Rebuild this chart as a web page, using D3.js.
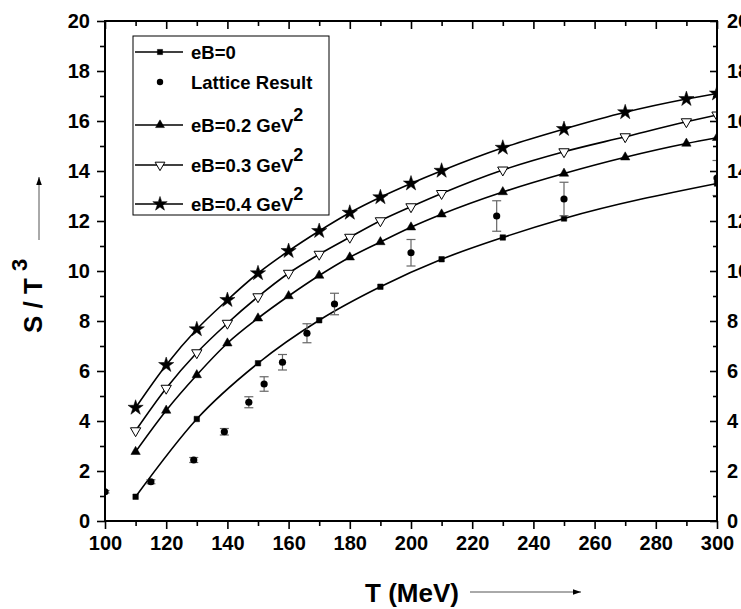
<!DOCTYPE html>
<html><head><meta charset="utf-8">
<script src="https://cdn.jsdelivr.net/npm/d3@7"></script>
<style>body{margin:0;background:#fff}svg{display:block}text{font-family:"Liberation Sans",Arial,sans-serif;font-weight:bold}</style>
</head><body><svg id="c" width="741" height="609"></svg>
<script>
// ---- data ----
const T_eB0 = [110,130,150,170,190,210,230,250,300];
const S_eB0 = [0.97,4.08,6.31,8.03,9.37,10.47,11.34,12.1,13.5];
const T_field = [110,120,130,140,150,160,170,180,190,200,210,230,250,270,290,300];
const S_eB02 = [2.77,4.42,5.84,7.11,8.11,9.0,9.82,10.55,11.16,11.75,12.27,13.16,13.9,14.55,15.1,15.33];
const S_eB03 = [3.61,5.31,6.73,7.91,8.97,9.91,10.67,11.35,12.01,12.57,13.1,14.04,14.77,15.37,15.97,16.24];
const S_eB04 = [4.53,6.24,7.67,8.84,9.91,10.8,11.6,12.33,12.95,13.5,14.01,14.93,15.68,16.35,16.88,17.1];
const T_lat = [100,115,129,139,147,152,158,166,175,200,228,250,300];
const S_lat = [1.17,1.57,2.44,3.57,4.75,5.48,6.35,7.51,8.68,10.73,12.2,12.88,13.72];
const E_lat = [0.05,0.08,0.1,0.13,0.22,0.29,0.31,0.38,0.43,0.53,0.61,0.67,0.7];
const xMajor = [100,120,140,160,180,200,220,240,260,280,300];
const yMajor = [0,2,4,6,8,10,12,14,16,18,20];
const legendLabels = ["eB=0","Lattice Result","eB=0.2 GeV","eB=0.3 GeV","eB=0.4 GeV"];

const svg = d3.select("#c");
const L=105, R=717, T=21, B=521;
const x = d3.scaleLinear().domain([100,300]).range([L,R]);
const y = d3.scaleLinear().domain([0,20]).range([B,T]);

svg.append("defs").append("clipPath").attr("id","clip")
  .append("rect").attr("x",L).attr("y",T).attr("width",R-L).attr("height",B-T);
svg.select("defs").append("marker").attr("id","ah").attr("viewBox","0 0 10 10")
  .attr("refX",10).attr("refY",5).attr("markerWidth",10).attr("markerHeight",8)
  .attr("markerUnits","userSpaceOnUse").attr("orient","auto")
  .append("path").attr("d","M0,1.5L10,5L0,8.5Z").attr("fill","#000");

const plot = svg.append("g").attr("clip-path","url(#clip)");
const line = d3.line().x(d=>x(d[0])).y(d=>y(d[1])).curve(d3.curveMonotoneX);

const series = [
  {T:T_eB0, S:S_eB0, sym:d3.symbolSquare, size:30, fill:"#000", rot:0},
  {T:T_field, S:S_eB02, sym:d3.symbolTriangle, size:38, fill:"#000", rot:0},
  {T:T_field, S:S_eB03, sym:d3.symbolTriangle, size:46, fill:"#fff", rot:180},
  {T:T_field, S:S_eB04, sym:d3.symbolStar, size:72, fill:"#000", rot:0},
];
series.forEach(s=>{
  const pts = s.T.map((t,i)=>[t,s.S[i]]);
  plot.append("path").datum(pts).attr("d",line).attr("fill","none")
    .attr("stroke","#000").attr("stroke-width",1.6);
  plot.selectAll(null).data(pts).enter().append("path")
    .attr("d",d3.symbol(s.sym,s.size))
    .attr("transform",d=>`translate(${x(d[0])},${y(d[1])}) rotate(${s.rot})`)
    .attr("fill",s.fill).attr("stroke","#000").attr("stroke-width",s.fill==="#fff"?1:0.5);
});

// lattice with error bars
const lat = T_lat.map((t,i)=>({t, v:S_lat[i], e:E_lat[i]}));
const eb = plot.selectAll(null).data(lat).enter().append("g").attr("stroke","#666").attr("stroke-width",1.2);
eb.append("line").attr("x1",d=>x(d.t)).attr("x2",d=>x(d.t)).attr("y1",d=>y(d.v-d.e)).attr("y2",d=>y(d.v+d.e));
eb.append("line").attr("x1",d=>x(d.t)-4.5).attr("x2",d=>x(d.t)+4.5).attr("y1",d=>y(d.v-d.e)).attr("y2",d=>y(d.v-d.e));
eb.append("line").attr("x1",d=>x(d.t)-4.5).attr("x2",d=>x(d.t)+4.5).attr("y1",d=>y(d.v+d.e)).attr("y2",d=>y(d.v+d.e));
plot.selectAll(null).data(lat).enter().append("circle")
  .attr("cx",d=>x(d.t)).attr("cy",d=>y(d.v)).attr("r",3.6).attr("fill","#000");

// axes
const xMinor = d3.range(110,300,20);
const yMinor = d3.range(1,20,2);
const fontTick = "20px";
function styleAxis(g){ g.select(".domain").remove(); g.selectAll("line").attr("stroke","#000").attr("stroke-width",1.6); g.selectAll("text").style("font-size",fontTick).attr("fill","#000"); }

svg.append("g").attr("transform",`translate(0,${B})`)
  .call(d3.axisBottom(x).tickValues(xMajor).tickSize(8).tickPadding(7).tickFormat(d3.format("d"))).call(styleAxis);
svg.append("g").attr("transform",`translate(0,${B})`)
  .call(d3.axisBottom(x).tickValues(xMinor).tickSize(5).tickFormat("")).call(styleAxis);
svg.append("g").attr("transform",`translate(0,${T})`)
  .call(d3.axisBottom(x).tickValues(xMajor).tickSize(8).tickFormat("")).call(styleAxis);
svg.append("g").attr("transform",`translate(0,${T})`)
  .call(d3.axisBottom(x).tickValues(xMinor).tickSize(5).tickFormat("")).call(styleAxis);
svg.append("g").attr("transform",`translate(${L},0)`)
  .call(d3.axisLeft(y).tickValues(yMajor).tickSize(8).tickPadding(7).tickFormat(d3.format("d"))).call(styleAxis);
svg.append("g").attr("transform",`translate(${L},0)`)
  .call(d3.axisLeft(y).tickValues(yMinor).tickSize(5).tickFormat("")).call(styleAxis);
const ra = svg.append("g").attr("transform",`translate(${R},0)`)
  .call(d3.axisLeft(y).tickValues(yMajor).tickSize(7).tickFormat(d3.format("d"))).call(styleAxis);
ra.selectAll("text").attr("x",10).attr("text-anchor","start");
svg.append("g").attr("transform",`translate(${R},0)`)
  .call(d3.axisLeft(y).tickValues(yMinor).tickSize(4).tickFormat("")).call(styleAxis);
svg.append("rect").attr("x",L).attr("y",T).attr("width",R-L).attr("height",B-T)
  .attr("fill","none").attr("stroke","#000").attr("stroke-width",2);

// legend
const lg = svg.append("g");
lg.append("rect").attr("x",133).attr("y",36).attr("width",196).attr("height",179)
  .attr("fill","#fff").attr("stroke","#000").attr("stroke-width",1);
const ly = [52,82,125,165,204];
const lsym = [series[0],null,series[1],series[2],series[3]];
legendLabels.forEach((lab,i)=>{
  const s = lsym[i];
  if(s){
    lg.append("line").attr("x1",135).attr("x2",183).attr("y1",ly[i]).attr("y2",ly[i]).attr("stroke","#000").attr("stroke-width",1.6);
    lg.append("path").attr("d",d3.symbol(s.sym,s.size*0.9)).attr("transform",`translate(160,${ly[i]}) rotate(${s.rot})`)
      .attr("fill",s.fill).attr("stroke","#000").attr("stroke-width",s.fill==="#fff"?1:0.5);
  } else {
    lg.append("circle").attr("cx",160).attr("cy",ly[i]).attr("r",3.2).attr("fill","#000");
  }
  const t = lg.append("text").attr("x",191).attr("y",ly[i]+7).style("font-size","18.5px").text(lab);
  if(i>=2) t.append("tspan").attr("dy",-11).style("font-size","18px").text("2");
});

// axis titles
const xt = svg.append("g");
xt.append("text").attr("x",412).attr("y",602).attr("text-anchor","middle").style("font-size","26px").text("T (MeV)");
xt.append("line").attr("x1",470).attr("x2",581).attr("y1",592).attr("y2",592).attr("stroke","#555").attr("stroke-width",1).attr("marker-end","url(#ah)");
const yt = svg.append("g").attr("transform","translate(42,333) rotate(-90)");
const ytt = yt.append("text").attr("x",0).attr("y",0).style("font-size","26px").text("S / T ");
ytt.append("tspan").attr("dy",-15).style("font-size","22px").text("3");
svg.append("line").attr("x1",39).attr("x2",39).attr("y1",240).attr("y2",177).attr("stroke","#555").attr("stroke-width",1).attr("marker-end","url(#ah)");
</script></body></html>
